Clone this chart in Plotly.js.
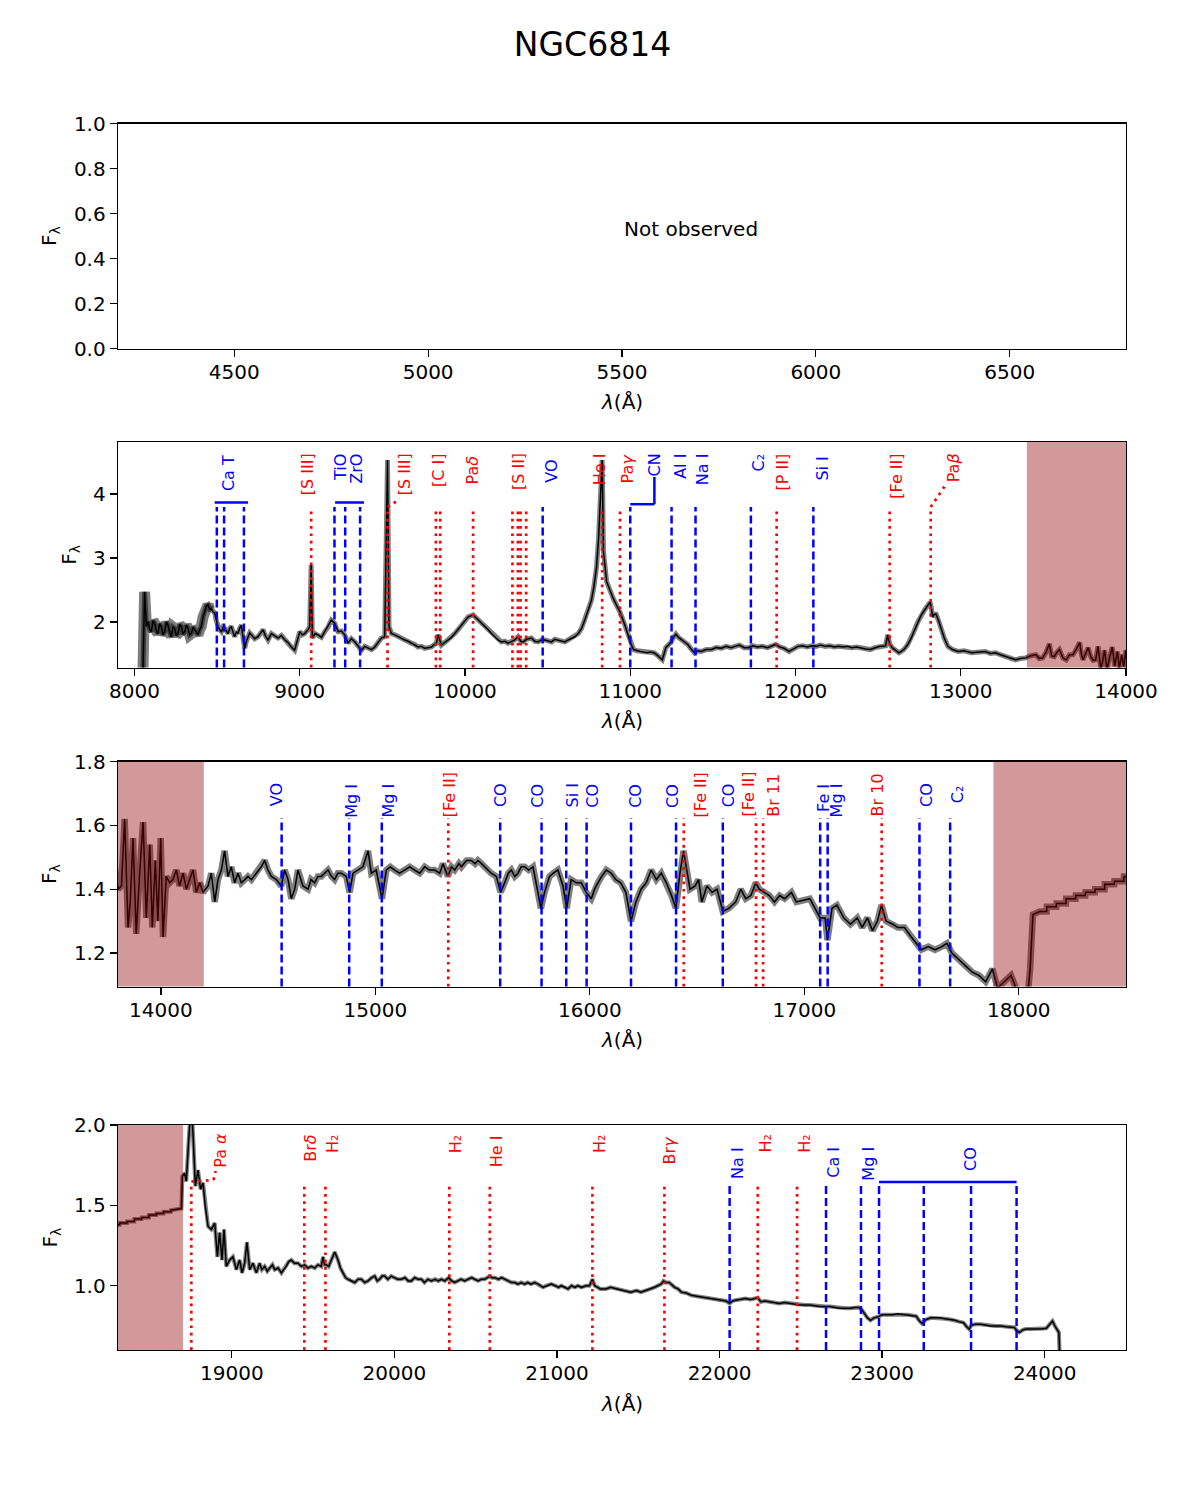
<!DOCTYPE html>
<html>
<head>
<meta charset="utf-8">
<script src="https://cdn.plot.ly/plotly-3.0.1.min.js"></script>
<style>html,body{margin:0;padding:0;background:#fff}</style>
</head>
<body>
<div id="chart" style="width:1185px;height:1500px"></div>
<script>
// ---------------- spectrum of NGC6814 (flux vs wavelength in Å) ----------------
const wavelength = [
 8050,8061,8072,8082,8092,8102,8112,8122,8132,8142,8152,8162,8172,8182,8193,8203,8213,8223,8233,8243,
 8253,8263,8273,8283,8293,8304,8314,8324,8334,8344,8354,8364,8374,8384,8394,8404,8415,8425,8435,8445,
 8455,8465,8475,8485,8495,8505,8515,8526,8536,8546,8556,8566,8576,8586,8596,8606,8616,8626,8636,8647,
 8657,8667,8677,8687,8697,8707,8727,8747,8762,8778,8793,8808,8828,8849,8869,8889,8909,8929,8949,8969,
 8985,9000,9015,9030,9050,9060,9069,9076,9093,9111,9131,9151,9171,9191,9212,9222,9232,9252,9272,9292,
 9312,9333,9353,9373,9393,9413,9434,9454,9474,9494,9514,9531,9540,9555,9575,9595,9615,9635,9656,9676,
 9696,9716,9736,9756,9777,9797,9815,9827,9837,9847,9857,9877,9898,9918,9938,9958,9978,9998,10019,10049,
 10069,10084,10099,10120,10140,10160,10180,10200,10220,10241,10261,10281,10301,10321,10337,10352,10372,10402,10422,10442,
 10462,10483,10503,10523,10543,10563,10584,10604,10624,10644,10665,10685,10705,10725,10745,10765,10780,10796,10808,10816,
 10830,10838,10857,10898,10939,10969,11000,11020,11040,11061,11082,11102,11122,11143,11160,11174,11194,11215,11245,11262,
 11276,11292,11307,11328,11348,11368,11389,11409,11429,11460,11491,11520,11552,11580,11610,11634,11660,11690,11716,11740,
 11770,11798,11830,11860,11879,11905,11930,11961,11990,12015,12043,12070,12100,12125,12150,12180,12207,12235,12260,12288,
 12315,12340,12370,12400,12425,12452,12480,12510,12534,12545,12558,12570,12585,12606,12626,12640,12656,12677,12697,12718,
 12738,12759,12779,12800,12815,12823,12830,12840,12851,12866,12881,12900,12922,12950,12984,13020,13065,13100,13147,13180,
 13209,13240,13270,13300,13331,13360,13393,13420,13454,13475,13495,13515,13536,13550,13566,13580,13597,13618,13638,13658,
 13679,13700,13720,13730,13740,13755,13771,13788,
 13801,13816,13831,13847,13857,13870,13885,13901,13917,13932,13948,13960,13974,13986,13999,14010,14025,14041,14056,14072,
 14087,14103,14119,14134,14150,14165,14181,14196,14210,14220,14235,14251,14266,14282,14297,14313,14328,14344,14359,14375,
 14391,14406,14422,14445,14468,14484,14499,14515,14538,14561,14577,14593,14608,14624,14639,14662,14686,14700,14717,14732,
 14748,14763,14779,14795,14810,14825,14841,14864,14880,14896,14919,14942,14966,14981,15004,15031,15051,15070,15090,15113,
 15136,15160,15183,15207,15230,15253,15276,15300,15315,15338,15355,15370,15390,15401,15425,15447,15465,15478,15495,15509,
 15525,15540,15564,15584,15603,15620,15634,15650,15665,15680,15696,15715,15735,15750,15772,15789,15812,15830,15851,15875,
 15892,15913,15937,15960,15983,16007,16022,16038,16055,16077,16100,16121,
 16144,16168,16192,16215,16239,16263,16286,16310,16333,16357,16381,16401,16420,16437,16452,16467,16491,16507,16522,16546,
 16570,16593,16620,16648,16680,16704,16727,16751,16774,16790,16814,16837,16861,16885,16908,16940,16963,16995,17026,17050,
 17074,17097,17108,17129,17152,17184,17215,17247,17270,17294,17318,17341,17360,17381,17413,17436,17467,17499,17523,17546,
 17578,17609,17641,17665,17688,17719,17751,17783,17814,17846,17877,17901,17932,17964,17987,18019,18042,18053,18066,18097,
 18130,18131,18175,18176,18220,18221,18265,18266,18310,18311,18355,18356,18400,18401,18445,18446,18490,18491,18535,18536,
 18580,18581,18625,18626,18690,
 18696,18710,18720,18735,18751,18763,18776,18792,18808,18823,18837,18854,18874,18895,18911,18925,18940,18952,18966,18987,
 19007,19028,19048,19063,19079,19093,19110,19130,19151,19171,19185,19202,19218,19233,19250,19264,19285,19305,19320,19335,
 19350,19366,19385,19407,19428,19448,19468,19489,19510,19530,19550,19561,19571,19581,19596,19612,19633,19653,19668,19684,
 19700,19715,19735,19756,19777,19797,19818,19838,19860,19879,19895,19909,19925,19940,19960,19981,20000,20020,20043,20065,
 20085,20104,20125,20146,20166,20185,20206,20227,20250,20270,20289,20310,20334,20352,20371,20390,20410,20432,20455,20475,
 20494,20515,20535,20555,20587,20600,20617,20640,20660,20678,20700,20720,20740,20760,20780,20801,20820,20840,20863,20885,
 20914,20935,20965,20990,21010,21027,21048,21068,21090,21110,21129,21150,21180,21200,21218,21232,21250,21266,21300,21330,
 21370,21410,21453,21490,21516,21545,21578,21600,21620,21640,21655,21670,21690,21710,21724,21745,21765,21795,21827,21860,
 21890,21920,21952,21985,22015,22040,22062,22080,22098,22130,22160,22190,22222,22235,22254,22280,22306,22340,22368,22400,
 22430,22460,22493,22525,22555,22585,22617,22650,22680,22710,22742,22775,22804,22830,22856,22875,22888,22910,22929,22950,
 22971,23000,23033,23065,23095,23130,23158,23185,23210,23230,23245,23260,23272,23300,23324,23355,23386,23420,23449,23475,
 23501,23520,23535,23550,23574,23605,23636,23670,23698,23730,23761,23790,23813,23830,23844,23865,23885,23915,23948,23980,
 24010,24030,24048,24062,24075,24087,24093,24100
];
const flux = [
 1.10,2.47,1.93,2.01,1.88,1.85,2.02,1.98,1.86,1.82,1.97,1.93,1.80,1.85,2.00,1.95,1.84,1.77,1.92,1.90,
 1.79,1.82,1.96,1.93,1.81,1.85,1.95,1.90,1.80,1.82,1.92,1.88,1.83,1.80,1.88,1.93,2.08,2.19,2.25,2.27,
 2.20,2.21,2.16,2.14,2.02,1.93,1.88,1.85,1.92,1.90,1.86,1.82,1.90,1.93,1.84,1.77,1.85,1.82,1.90,1.95,
 1.75,1.59,1.70,1.77,1.83,1.80,1.74,1.77,1.83,1.88,1.78,1.72,1.82,1.78,1.75,1.79,1.72,1.68,1.61,1.56,
 1.72,1.85,1.80,1.82,1.88,1.93,2.89,1.75,1.82,1.80,1.76,1.85,1.92,2.03,1.98,1.90,1.85,1.86,1.80,1.67,
 1.74,1.69,1.62,1.56,1.62,1.59,1.57,1.61,1.68,1.75,1.77,4.53,1.93,1.82,1.80,1.77,1.75,1.72,1.70,1.67,
 1.65,1.61,1.62,1.59,1.60,1.61,1.65,1.67,1.80,1.70,1.64,1.68,1.72,1.76,1.82,1.88,1.95,2.01,2.08,2.11,
 2.06,2.03,1.98,1.93,1.88,1.82,1.77,1.72,1.69,1.70,1.67,1.70,1.72,1.77,1.70,1.69,1.73,1.75,1.70,1.69,
 1.72,1.72,1.70,1.69,1.73,1.72,1.70,1.69,1.72,1.75,1.77,1.82,1.90,2.03,2.17,2.34,2.55,2.86,3.30,3.80,
 4.53,3.10,2.63,2.36,2.15,1.94,1.68,1.57,1.55,1.54,1.53,1.52,1.53,1.52,1.49,1.46,1.41,1.60,1.68,1.76,
 1.81,1.76,1.73,1.69,1.65,1.58,1.52,1.55,1.54,1.57,1.57,1.60,1.59,1.62,1.60,1.62,1.64,1.60,1.60,1.63,
 1.61,1.62,1.60,1.63,1.65,1.61,1.59,1.54,1.58,1.62,1.63,1.61,1.63,1.62,1.64,1.62,1.63,1.61,1.62,1.61,
 1.62,1.60,1.61,1.60,1.58,1.57,1.60,1.62,1.62,1.63,1.80,1.66,1.60,1.56,1.52,1.54,1.57,1.64,1.73,1.86,
 1.99,2.10,2.18,2.26,2.31,2.20,2.08,2.12,2.12,2.02,1.89,1.75,1.62,1.57,1.54,1.55,1.52,1.53,1.54,1.51,
 1.52,1.49,1.46,1.44,1.41,1.43,1.44,1.47,1.49,1.43,1.44,1.52,1.66,1.47,1.46,1.52,1.57,1.44,1.41,1.49,
 1.49,1.58,1.68,1.50,1.41,1.50,1.60,1.45,
 1.40,1.41,1.62,1.28,1.36,1.56,1.26,1.45,1.61,1.31,1.54,1.28,1.49,1.30,1.56,1.25,1.44,1.42,1.43,1.46,
 1.41,1.45,1.40,1.43,1.46,1.39,1.42,1.39,1.40,1.41,1.45,1.36,1.43,1.46,1.52,1.44,1.47,1.42,1.45,1.42,
 1.43,1.44,1.43,1.45,1.47,1.49,1.46,1.44,1.43,1.41,1.46,1.43,1.37,1.40,1.46,1.41,1.40,1.43,1.42,1.44,
 1.44,1.45,1.46,1.44,1.43,1.45,1.45,1.44,1.39,1.45,1.46,1.47,1.52,1.45,1.46,1.37,1.46,1.47,1.46,1.45,
 1.46,1.47,1.46,1.45,1.47,1.46,1.46,1.45,1.48,1.44,1.47,1.46,1.48,1.47,1.49,1.49,1.48,1.49,1.48,1.47,
 1.46,1.45,1.44,1.39,1.42,1.45,1.46,1.44,1.45,1.47,1.47,1.46,1.47,1.42,1.34,1.39,1.44,1.45,1.46,1.41,
 1.34,1.43,1.42,1.42,1.39,1.37,1.40,1.42,1.44,1.46,1.45,1.43,
 1.42,1.39,1.30,1.36,1.40,1.42,1.46,1.43,1.45,1.42,1.38,1.34,1.45,1.52,1.46,1.40,1.41,1.43,1.36,1.41,
 1.39,1.40,1.33,1.34,1.36,1.40,1.37,1.38,1.42,1.40,1.39,1.38,1.36,1.38,1.37,1.39,1.36,1.365,1.37,1.34,
 1.31,1.31,1.24,1.34,1.35,1.31,1.29,1.31,1.28,1.31,1.27,1.30,1.35,1.30,1.29,1.28,1.28,1.25,1.23,1.21,
 1.22,1.21,1.22,1.23,1.20,1.18,1.16,1.14,1.13,1.11,1.15,1.09,1.11,1.13,1.09,1.06,1.07,1.15,1.32,1.33,
 1.33,1.345,1.345,1.355,1.355,1.37,1.37,1.38,1.38,1.39,1.39,1.40,1.40,1.415,1.415,1.425,1.425,1.44,1.44,1.45,
 1.45,1.46,1.46,1.47,1.48,
 1.68,1.70,1.65,1.91,2.15,1.91,1.62,1.72,1.60,1.64,1.49,1.37,1.35,1.39,1.18,1.33,1.16,1.35,1.12,1.16,
 1.18,1.10,1.16,1.08,1.14,1.27,1.10,1.14,1.08,1.14,1.10,1.12,1.09,1.11,1.13,1.10,1.11,1.08,1.10,1.12,
 1.15,1.16,1.14,1.14,1.12,1.13,1.11,1.12,1.11,1.13,1.12,1.18,1.13,1.13,1.12,1.16,1.21,1.16,1.11,1.08,
 1.05,1.04,1.03,1.02,1.04,1.04,1.02,1.03,1.05,1.06,1.03,1.04,1.06,1.06,1.04,1.06,1.05,1.04,1.04,1.05,
 1.03,1.03,1.05,1.04,1.04,1.02,1.04,1.03,1.04,1.03,1.04,1.03,1.05,1.03,1.02,1.03,1.04,1.03,1.04,1.05,
 1.04,1.03,1.04,1.04,1.06,1.05,1.05,1.04,1.05,1.04,1.03,1.02,1.02,1.01,1.02,1.01,1.02,1.01,1.02,1.01,
 0.99,1.00,1.01,1.00,0.99,1.00,0.99,0.98,1.00,0.99,1.00,0.99,1.00,1.00,1.04,1.00,0.99,0.98,0.98,0.99,
 0.98,0.97,0.96,0.97,0.96,0.97,0.98,0.99,1.00,1.01,1.03,1.02,1.02,1.00,0.99,0.98,0.96,0.955,0.94,0.935,
 0.93,0.925,0.92,0.915,0.91,0.905,0.89,0.905,0.91,0.915,0.92,0.915,0.92,0.925,0.90,0.905,0.90,0.895,0.89,0.895,
 0.89,0.885,0.88,0.88,0.88,0.875,0.87,0.87,0.87,0.865,0.86,0.86,0.86,0.865,0.865,0.85,0.83,0.80,0.785,0.80,
 0.805,0.82,0.82,0.82,0.825,0.82,0.82,0.815,0.81,0.78,0.765,0.78,0.79,0.80,0.80,0.80,0.795,0.79,0.785,0.775,
 0.77,0.745,0.73,0.755,0.76,0.76,0.755,0.75,0.75,0.75,0.745,0.74,0.74,0.72,0.71,0.725,0.73,0.73,0.73,0.73,
 0.735,0.76,0.78,0.75,0.73,0.71,0.55,0.40
];

// ---------------- line identifications (Å) ----------------
// Z/J bands
const zjEmissionNames = ['[S III]','[S III]','[C I]','[C I]','Paδ','[S II]','[S II]','[S II]','[S II]','He I','Paγ','[P II]','[Fe II]','Paβ'];
const zjEmissionWave  = [9069, 9531, 9824, 9850, 10049, 10287, 10320, 10336, 10370, 10830, 10938, 11886, 12570, 12818];
const zjAbsorptionNames = ['Ca T','Ca T','Ca T','TiO','ZrO','ZrO','VO','CN','Al I','Na I','C2','Si I'];
const zjAbsorptionWave  = [8498, 8542, 8662, 9210, 9275, 9365, 10470, 11000, 11250, 11395, 11730, 12108];
// H band
const hEmissionNames = ['[Fe II]','[Fe II]','[Fe II]','Br 11','Br 10'];
const hEmissionWave  = [15340, 16438, 16775, 16808, 17361];
const hAbsorptionNames = ['VO','Mg I','Mg I','CO','CO','Si I','CO','CO','CO','CO','Fe I','Mg I','CO','C2'];
const hAbsorptionWave  = [14563, 14878, 15030, 15582, 15775, 15890, 15985, 16192, 16402, 16620, 17074, 17109, 17537, 17680];
// K band
const kEmissionNames = ['Pa α','Brδ','H2','H2','He I','H2','Brγ','H2','H2'];
const kEmissionWave  = [18751, 19446, 19576, 20338, 20587, 21218, 21661, 22235, 22477];
const kAbsorptionNames = ['Na I','Ca I','Mg I','CO','CO','CO','CO'];
const kAbsorptionWave  = [22062, 22655, 22870, 22981, 23256, 23547, 23827];

// telluric / low-transmission windows
const badWindowStart = [13400, 13800, 17882, 18300];
const badWindowEnd   = [14000, 14200, 18500, 18700];
const badWindowPanel = [2, 3, 3, 4];

// ---------------- page geometry ----------------
const W = 1185, H = 1500;
const FONT = 'DejaVu Sans';
const BLUE = '#0000ff', RED = '#ff0000';
const fx = p => p / W;
const fy = p => 1 - p / H;
const plotLeft = 118, plotRight = 1126;

const panels = [
  {n: 1, xa: 'x',  ya: 'y',  top: 123.5, bottom: 348.5, xr: [4200, 6800],   yr: [0, 1],       xd: 500,  yd: 0.2, yfmt: '.1f', ytitleX: 50, lineTop: 0},
  {n: 2, xa: 'x2', ya: 'y2', top: 442,   bottom: 667.5, xr: [7900, 14000],  yr: [1.29, 4.81], xd: 1000, yd: 1,   yfmt: 'd',   ytitleX: 70, lineTop: 0.712},
  {n: 3, xa: 'x3', ya: 'y3', top: 761.5, bottom: 986.5, xr: [13800, 18500], yr: [1.095, 1.8], xd: 1000, yd: 0.2, yfmt: '.1f', ytitleX: 50, lineTop: 0.749},
  {n: 4, xa: 'x4', ya: 'y4', top: 1125,  bottom: 1350,  xr: [18300, 24500], yr: [0.6, 2.0],   xd: 1000, yd: 0.5, yfmt: '.1f', ytitleX: 50, lineTop: 0.747}
];
const dom = (p, ypx) => (p.bottom - ypx) / (p.bottom - p.top);

// label placement: [text, x in Å, top of text in px, colour]
const labelPlacement = {
  2: [
    ['Ca T', 8566, 455, BLUE], ['[S III]', 9048, 453.5, RED], ['TiO', 9243, 453.5, BLUE], ['ZrO', 9342, 453.5, BLUE],
    ['[S III]', 9635, 453.5, RED], ['[C I]', 9836, 453.5, RED], ['Pa<i>δ</i>', 10048, 455, RED], ['[S II]', 10321, 453.5, RED],
    ['VO', 10522, 460, BLUE], ['He I', 10815, 453.5, RED], ['Pa<i>γ</i>', 10986, 453.5, RED], ['CN', 11146, 453.5, BLUE],
    ['Al I', 11300, 453.5, BLUE], ['Na I', 11438, 453.5, BLUE], ['C₂', 11779, 453.5, BLUE], ['[P II]', 11921, 453.5, RED],
    ['Si I', 12164, 457, BLUE], ['[Fe II]', 12606, 453.5, RED], ['Pa<i>β</i>', 12955, 453.5, RED]
  ],
  3: [
    ['VO', 14538, 783.5, BLUE], ['Mg I', 14888, 783.5, BLUE], ['Mg I', 15059, 783.5, BLUE], ['[Fe II]', 15347, 772, RED],
    ['CO', 15584, 783.5, BLUE], ['CO', 15755, 783.5, BLUE], ['Si I', 15921, 783.5, BLUE], ['CO', 16011, 783.5, BLUE],
    ['CO', 16212, 783.5, BLUE], ['CO', 16385, 783.5, BLUE], ['[Fe II]', 16518, 772, RED], ['CO', 16648, 783.5, BLUE],
    ['[Fe II]', 16738, 772, RED], ['Br 11', 16853, 773.5, RED], ['Fe I', 17089, 783.5, BLUE], ['Mg I', 17152, 783.5, BLUE],
    ['Br 10', 17341, 773.5, RED], ['CO', 17570, 783.5, BLUE], ['C₂', 17715, 785.5, BLUE]
  ],
  4: [
    ['Pa <i>α</i>', 18929, 1133, RED], ['Br<i>δ</i>', 19483, 1133.5, RED], ['H₂', 19616, 1135, RED],
    ['H₂', 20375, 1135, RED], ['He I', 20627, 1135, RED], ['H₂', 21258, 1135, RED],
    ['Br<i>γ</i>', 21695, 1135, RED], ['Na I', 22107, 1147, BLUE], ['H₂', 22277, 1135, RED],
    ['H₂', 22518, 1135, RED], ['Ca I', 22699, 1147, BLUE], ['Mg I', 22911, 1147, BLUE], ['CO', 23540, 1147, BLUE]
  ]
};

// ---------------- traces ----------------
const traces = [{x: [], y: [], xaxis: 'x', yaxis: 'y', mode: 'lines', showlegend: false}];
const bandWidth = {2: 5, 3: 6.5, 4: 4};
panels.slice(1).forEach(p => {
  traces.push({x: wavelength, y: flux, xaxis: p.xa, yaxis: p.ya, mode: 'lines', showlegend: false,
               line: {color: 'rgba(0,0,0,0.5)', width: bandWidth[p.n]}});
  if (p.n === 2) {
    const wl = wavelength.filter(w => w < 8460);
    traces.push({x: wl, y: flux.slice(0, wl.length), xaxis: p.xa, yaxis: p.ya, mode: 'lines', showlegend: false,
                 line: {color: 'rgba(0,0,0,0.5)', width: 11}});
  }
  traces.push({x: wavelength, y: flux, xaxis: p.xa, yaxis: p.ya, mode: 'lines', showlegend: false,
               line: {color: '#000000', width: 1.5}});
});

// ---------------- shapes ----------------
const shapes = [];
const dashedBlue = {color: BLUE, width: 2.5, dash: '8px,4px'};
const dottedRed  = {color: RED,  width: 2.7, dash: '2.7px,4.6px'};
const solidBlue  = {color: BLUE, width: 2.5};

function vlines(p, waves, style) {
  waves.forEach(w => shapes.push({type: 'line', xref: p.xa, yref: p.ya + ' domain',
    x0: w, x1: w, y0: 0, y1: p.lineTop, line: style}));
}
function seg(p, xA, yApx, xB, yBpx, style) {
  shapes.push({type: 'line', xref: p.xa, yref: p.ya + ' domain',
    x0: xA, x1: xB, y0: dom(p, yApx), y1: dom(p, yBpx), line: style});
}

const P2 = panels[1], P3 = panels[2], P4 = panels[3];
vlines(P2, zjEmissionWave, dottedRed);
vlines(P2, zjAbsorptionWave, dashedBlue);
vlines(P3, hEmissionWave, dottedRed);
vlines(P3, hAbsorptionWave, dashedBlue);
vlines(P4, kEmissionWave, dottedRed);
vlines(P4, kAbsorptionWave, dashedBlue);

// band brackets and leaders
seg(P2, 8485, 502.5, 8687, 502.5, solidBlue);          // Ca triplet
seg(P2, 9214, 502.5, 9389, 502.5, solidBlue);          // TiO / ZrO
seg(P2, 11000, 504.2, 11146, 504.2, solidBlue);        // CN
seg(P2, 11146, 504.2, 11146, 477, solidBlue);
seg(P4, 22981, 1182, 23827, 1182, solidBlue);          // CO bandheads
seg(P2, 9531, 507, 9606, 499, dottedRed);              // leaders to displaced labels
seg(P2, 12818, 507, 12904, 486, dottedRed);
seg(P4, 18751, 1181.5, 18888, 1180, dottedRed);
seg(P4, 18888, 1180, 18900, 1171, dottedRed);

// masked windows
badWindowStart.forEach((s, i) => {
  const p = panels[badWindowPanel[i] - 1];
  shapes.push({type: 'rect', xref: p.xa, yref: p.ya + ' domain', x0: s, x1: badWindowEnd[i], y0: 0, y1: 1,
    fillcolor: 'rgba(139,0,0,0.4)', line: {width: 0}, layer: 'above'});
});

// ---------------- annotations ----------------
const annotations = [];
panels.forEach(p => {
  annotations.push({xref: 'paper', yref: 'paper', x: fx((plotLeft + plotRight) / 2), y: fy(p.bottom + 53.5),
    text: '<i>λ</i>(Å)', showarrow: false, xanchor: 'center', yanchor: 'middle',
    font: {family: FONT, size: 20, color: '#000'}});
  annotations.push({xref: 'paper', yref: 'paper', x: fx(p.ytitleX), y: fy((p.top + p.bottom) / 2),
    text: 'F<sub>λ</sub>', showarrow: false, textangle: -90, xanchor: 'center', yanchor: 'middle',
    font: {family: FONT, size: 20, color: '#000'}});
});
annotations.push({xref: 'paper', yref: 'paper', x: fx(622), y: fy(229), text: 'Not observed',
  showarrow: false, xanchor: 'left', yanchor: 'middle', font: {family: FONT, size: 20, color: '#000'}});

[P2, P3, P4].forEach(p => {
  labelPlacement[p.n].forEach(([txt, x, topPx, col]) => {
    annotations.push({xref: p.xa, yref: 'paper', x: x, y: fy(topPx), text: txt, showarrow: false,
      textangle: -90, xanchor: 'center', yanchor: 'top', borderpad: 0, borderwidth: 0,
      font: {family: FONT, size: 16, color: col}});
  });
});

// ---------------- layout ----------------
const layout = {
  width: W, height: H,
  margin: {l: 0, r: 0, t: 0, b: 0},
  paper_bgcolor: '#fff', plot_bgcolor: '#fff',
  showlegend: false, hovermode: false,
  title: {text: 'NGC6814', font: {family: FONT, size: 33, color: '#000'},
          x: 0.5, xanchor: 'center', xref: 'paper', y: fy(44), yanchor: 'middle', yref: 'container'},
  shapes: shapes, annotations: annotations
};
panels.forEach(p => {
  const xk = p.n === 1 ? 'xaxis' : 'xaxis' + p.n;
  const yk = p.n === 1 ? 'yaxis' : 'yaxis' + p.n;
  const common = {showline: true, mirror: true, linecolor: '#000', linewidth: 1.3, ticks: 'outside',
    ticklen: 7, tickwidth: 1.3, tickcolor: '#000', showgrid: false, zeroline: false, fixedrange: true,
    tickfont: {family: FONT, size: 20, color: '#000'}};
  layout[xk] = Object.assign({}, common, {domain: [fx(plotLeft), fx(plotRight)], range: p.xr,
    anchor: p.ya, dtick: p.xd, tick0: 0, tickformat: 'd', ticklabelstandoff: -2});
  layout[yk] = Object.assign({}, common, {domain: [fy(p.bottom), fy(p.top)], range: p.yr,
    anchor: p.xa, dtick: p.yd, tick0: 0, tickformat: p.yfmt});
});

Plotly.newPlot('chart', traces, layout, {staticPlot: true, displayModeBar: false});
</script>
</body>
</html>
